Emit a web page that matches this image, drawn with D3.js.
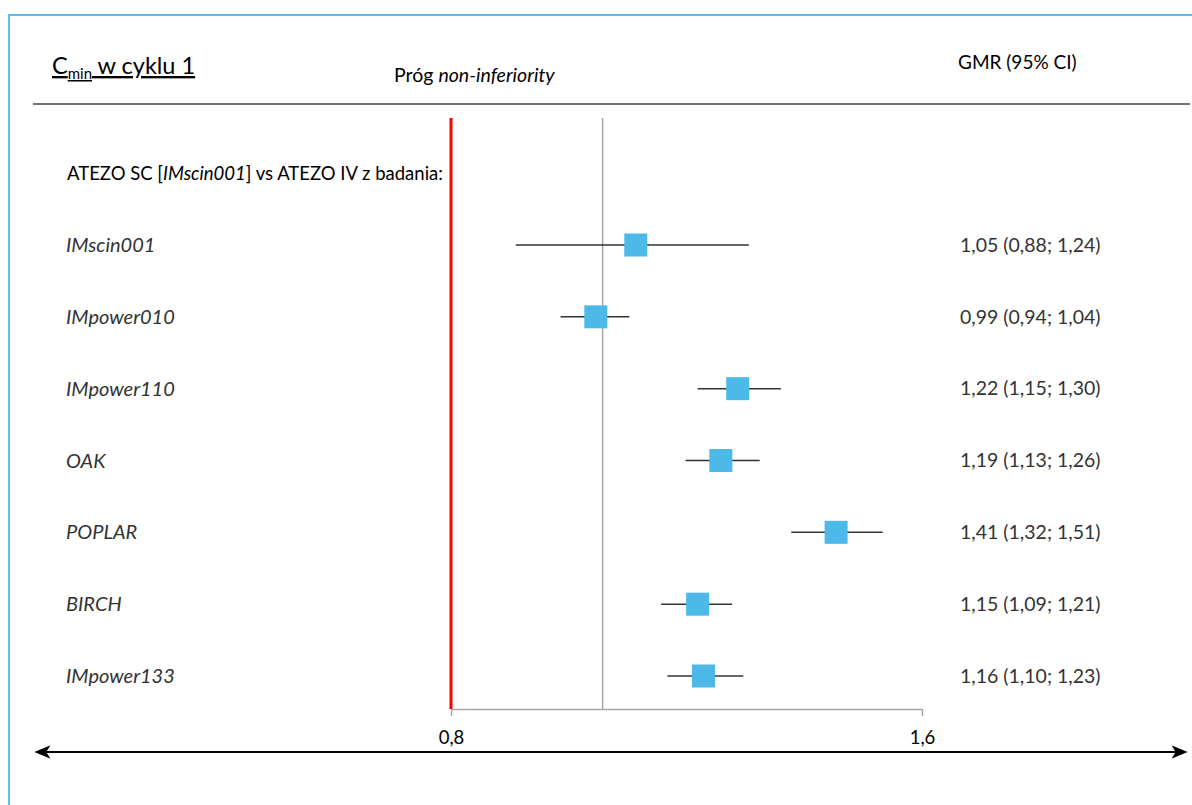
<!DOCTYPE html>
<html lang="pl">
<head>
  <meta charset="UTF-8">
  <title>Cmin w cyklu 1</title>
  <script src="https://d3js.org/d3.v7.min.js"></script>
  <style>
    * { margin: 0; padding: 0; box-sizing: border-box; }
    body { background: #fff; font-family: Lato, "Open Sans", sans-serif; }
  </style>
</head>
<body>
  <div id="chart"></div>
  <script>
    // dane
    const studies = ["IMscin001", "IMpower010", "IMpower110", "OAK", "POPLAR", "BIRCH", "IMpower133"];
    const gmr     = [1.05, 0.99, 1.22, 1.19, 1.41, 1.15, 1.16];
    const ciLow   = [0.88, 0.94, 1.15, 1.13, 1.32, 1.09, 1.10];
    const ciHigh  = [1.24, 1.04, 1.30, 1.26, 1.51, 1.21, 1.23];
    const tickValues = [0.8, 1.6];
    const threshold = 0.8;
    const refLine = 1.0;

    const W = 1192, H = 805;
    const data = studies.map((s, i) => ({ study: s, gmr: gmr[i], lo: ciLow[i], hi: ciHigh[i] }));
    const fmt = v => d3.format(".2f")(v).replace(".", ",");

    const svg = d3.select("#chart").append("svg")
      .attr("width", W)
      .attr("height", H);

    const x = d3.scaleLog()
      .domain([0.8, 1.6])
      .range([451, 922]);

    const y = d3.scalePoint()
      .domain(studies)
      .range([245, 676]);

    const plotTop = 118, plotBottom = 709;

    // ramka
    svg.append("line")
       .attr("x1", 9).attr("x2", W).attr("y1", 15).attr("y2", 15)
       .attr("stroke", "#5bc0eb").attr("stroke-width", 2);
    svg.append("line")
       .attr("x1", 9).attr("x2", 9).attr("y1", 14).attr("y2", H)
       .attr("stroke", "#5bc0eb").attr("stroke-width", 2);

    // naglowek
    const title = svg.append("text")
       .attr("x", 52).attr("y", 74)
       .style("font-size", "23.5px")
       .style("text-decoration", "underline")
       .attr("fill", "#000");
    title.append("tspan").text("C");
    title.append("tspan").attr("dy", 5).style("font-size", "15px").text("min");
    title.append("tspan").attr("dy", -5).text(" w cyklu 1");

    const prog = svg.append("text")
       .attr("x", 394).attr("y", 82)
       .style("font-size", "19.5px")
       .attr("fill", "#000");
    prog.append("tspan").text("Próg ");
    prog.append("tspan").style("font-style", "italic").text("non-inferiority");

    svg.append("text")
       .attr("x", 958).attr("y", 69)
       .style("font-size", "19px")
       .attr("fill", "#000")
       .text("GMR (95% CI)");

    svg.append("line")
       .attr("x1", 33).attr("x2", 1190).attr("y1", 104).attr("y2", 104)
       .attr("stroke", "#444").attr("stroke-width", 1.5);

    const sub = svg.append("text")
       .attr("x", 67).attr("y", 180)
       .style("font-size", "18.5px")
       .attr("fill", "#000");
    sub.append("tspan").text("ATEZO SC [");
    sub.append("tspan").style("font-style", "italic").text("IMscin001");
    sub.append("tspan").text("] vs ATEZO IV z badania:");

    // linie odniesienia
    svg.append("line")
       .attr("x1", x(refLine)).attr("x2", x(refLine))
       .attr("y1", plotTop).attr("y2", plotBottom)
       .attr("stroke", "#a6a6a6").attr("stroke-width", 1.5);

    // os
    const axis = svg.append("g")
       .attr("transform", `translate(0,${plotBottom})`)
       .call(d3.axisBottom(x)
               .tickValues(tickValues)
               .tickFormat(d => String(d).replace(".", ","))
               .tickSize(7)
               .tickSizeOuter(0));
    axis.select(".domain").attr("stroke", "#a6a6a6").attr("stroke-width", 1.5);
    axis.selectAll(".tick line").attr("stroke", "#a6a6a6").attr("stroke-width", 1.5);
    axis.selectAll(".tick text")
        .attr("y", 22)
        .attr("fill", "#000")
        .style("font-family", "Lato, sans-serif")
        .style("font-size", "18.5px");

    svg.append("line")
       .attr("x1", x(threshold)).attr("x2", x(threshold))
       .attr("y1", plotTop).attr("y2", plotBottom)
       .attr("stroke", "#ff0000").attr("stroke-width", 3);

    // strzalka
    const defs = svg.append("defs");
    defs.append("marker")
        .attr("id", "arr")
        .attr("viewBox", "0 0 12 10")
        .attr("refX", 10).attr("refY", 5)
        .attr("markerWidth", 8).attr("markerHeight", 7)
        .attr("markerUnits", "strokeWidth")
        .attr("orient", "auto-start-reverse")
        .append("path")
        .attr("d", "M0,0 L12,5 L0,10 L3,5 Z")
        .attr("fill", "#000");
    svg.append("line")
       .attr("x1", 37).attr("x2", 1185).attr("y1", 752).attr("y2", 752)
       .attr("stroke", "#000").attr("stroke-width", 2)
       .attr("marker-start", "url(#arr)")
       .attr("marker-end", "url(#arr)");

    // wiersze
    const rows = svg.selectAll(".row")
       .data(data)
       .enter()
       .append("g")
       .attr("class", "row")
       .attr("transform", d => `translate(0,${y(d.study)})`);

    rows.append("text")
        .attr("x", 66).attr("dy", "0.35em")
        .style("font-size", "20px")
        .style("font-style", "italic")
        .attr("fill", "#333")
        .text(d => d.study);

    rows.append("line")
        .attr("x1", d => x(d.lo)).attr("x2", d => x(d.hi))
        .attr("stroke", "#333").attr("stroke-width", 1.5);

    const sq = 23;
    rows.append("rect")
        .attr("x", d => x(d.gmr) - sq / 2)
        .attr("y", -sq / 2)
        .attr("width", sq).attr("height", sq)
        .attr("fill", "#4db9e9");

    rows.append("text")
        .attr("x", 960).attr("dy", "0.35em")
        .style("font-size", "19.5px")
        .attr("fill", "#333")
        .text(d => `${fmt(d.gmr)} (${fmt(d.lo)}; ${fmt(d.hi)})`);
  </script>
</body>
</html>
